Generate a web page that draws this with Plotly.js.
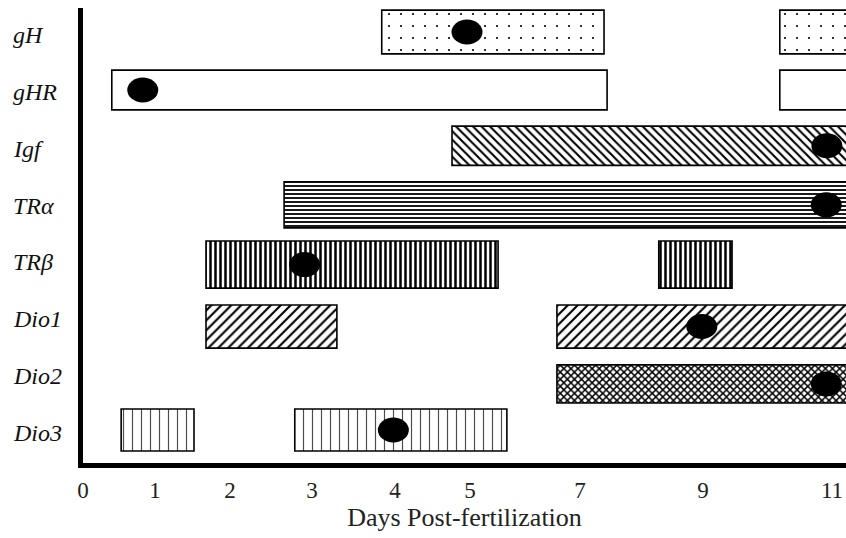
<!DOCTYPE html>
<html>
<head>
<meta charset="utf-8">
<script src="https://cdn.plot.ly/plotly-3.0.1.min.js"></script>
<style>
  html, body { margin: 0; padding: 0; background: #fff; }
  #chart { width: 846px; height: 538px; }
</style>
</head>
<body>
<div id="chart"></div>
<script>
// Gene rows, top to bottom
const genes = ['gH', 'gHR', 'Igf', 'TRα', 'TRβ', 'Dio1', 'Dio2', 'Dio3'];

// Expression windows per gene, [start, end] in days post-fertilization.
// An end of 12 means expression continues past the last labelled day.
const windowsGH   = [[3.84, 7.39], [10.19, 12]];
const windowsGHR  = [[0.40, 7.44], [10.19, 12]];
const windowsIgf  = [[4.76, 12]];
const windowsTRa  = [[2.66, 12]];
const windowsTRb  = [[1.68, 5.51], [8.28, 9.45]];
const windowsDio1 = [[1.68, 3.30], [6.58, 12]];
const windowsDio2 = [[6.58, 12]];
const windowsDio3 = [[0.53, 1.52], [2.79, 5.67]];

// Day of peak expression for each gene (same order as genes)
const peakDays = [4.96, 0.83, 10.92, 10.91, 2.91, 8.98, 10.91, 3.98];

// Labelled days on the time axis
const tickDays = [0, 1, 2, 3, 4, 5, 7, 9, 11];

// ---- layout helpers (positions / sizes) ----
// Where each labelled day sits along the (non-uniform) time axis
const tickPos = [0, 0.96, 1.96, 3.053, 4.16, 5.16, 6.627, 8.267, 9.987];
// Small vertical nudge and thickness of each row's bars, in row units
const rowNudge = [0, 0.02, 0, 0.04, 0.09, 0.18, 0.19, 0];
const rowThick = [0.77, 0.70, 0.69, 0.81, 0.83, 0.76, 0.67, 0.74];

// Piecewise-linear day -> axis position (extrapolates past the ends)
function dayToPos(d) {
  let i = 0;
  while (i < tickDays.length - 2 && d > tickDays[i + 1]) i++;
  const d0 = tickDays[i], d1 = tickDays[i + 1];
  const p0 = tickPos[i], p1 = tickPos[i + 1];
  return p0 + (d - d0) * (p1 - p0) / (d1 - d0);
}

const allWindows = [windowsGH, windowsGHR, windowsIgf, windowsTRa,
                    windowsTRb, windowsDio1, windowsDio2, windowsDio3];

// Fill pattern per gene
const patterns = [
  { shape: '.',  size: 12, solidity: 0.025 },
  { shape: '',   size: 8,  solidity: 0.3 },
  { shape: '\\', size: 6,  solidity: 0.35 },
  { shape: '-',  size: 4,  solidity: 0.45 },
  { shape: '|',  size: 5,  solidity: 0.5 },
  { shape: '/',  size: 7,  solidity: 0.3 },
  { shape: 'x',  size: 5,  solidity: 0.5 },
  { shape: '|',  size: 9,  solidity: 0.13, fgopacity: 0.7 }
];

const fontFamily = 'Liberation Serif, Times New Roman, serif';

const traces = allWindows.map((wins, row) => {
  const pat = Object.assign({ fgcolor: '#000', bgcolor: '#fff', fillmode: 'replace' }, patterns[row]);
  return {
    type: 'bar',
    orientation: 'h',
    y: wins.map(() => row + rowNudge[row]),
    base: wins.map(w => dayToPos(w[0])),
    x: wins.map(w => dayToPos(w[1]) - dayToPos(w[0])),
    width: rowThick[row],
    marker: {
      color: '#fff',
      line: { color: '#000', width: 1.6 },
      pattern: pat
    },
    hoverinfo: 'skip',
    showlegend: false
  };
});

// Peak markers: filled ellipses anchored on the data, sized in pixels
const peakShapes = peakDays.map((d, row) => ({
  type: 'circle',
  xref: 'x', yref: 'y',
  xsizemode: 'pixel', ysizemode: 'pixel',
  xanchor: dayToPos(d), yanchor: row + rowNudge[row],
  x0: -15.5, x1: 15.5, y0: -12.5, y1: 12.5,
  fillcolor: '#000',
  line: { width: 0 },
  layer: 'above'
}));

// Gene names, left-aligned beside the axis
const geneLabels = genes.map((g, row) => ({
  xref: 'paper', yref: 'y',
  x: -0.095, y: row,
  xanchor: 'left', yanchor: 'middle',
  yshift: -3,
  text: g,
  showarrow: false,
  font: { family: fontFamily, size: 24, color: '#111', style: 'italic' }
}));

const layout = {
  width: 846,
  height: 538,
  margin: { l: 83, r: 0, t: 8, b: 75 },
  paper_bgcolor: '#fff',
  plot_bgcolor: '#fff',
  barmode: 'overlay',
  xaxis: {
    range: [0, 10.173],
    tickmode: 'array',
    tickvals: tickPos,
    ticktext: tickDays.map(String),
    showgrid: false,
    zeroline: false,
    showline: true,
    linecolor: '#000',
    linewidth: 5,
    ticks: '',
    ticklabelstandoff: 2,
    tickfont: { family: fontFamily, size: 23, color: '#222' },
    title: {
      text: '\u00a0\u00a0\u00a0Days Post-fertilization',
      font: { family: fontFamily, size: 26, color: '#222' },
      standoff: 2
    },
    fixedrange: true
  },
  yaxis: {
    range: [7.58, -0.422],
    showticklabels: false,
    showgrid: false,
    zeroline: false,
    showline: true,
    linecolor: '#000',
    linewidth: 5,
    ticks: '',
    fixedrange: true
  },
  shapes: peakShapes,
  annotations: geneLabels
};

Plotly.newPlot('chart', traces, layout, { displayModeBar: false, staticPlot: true });
</script>
</body>
</html>
